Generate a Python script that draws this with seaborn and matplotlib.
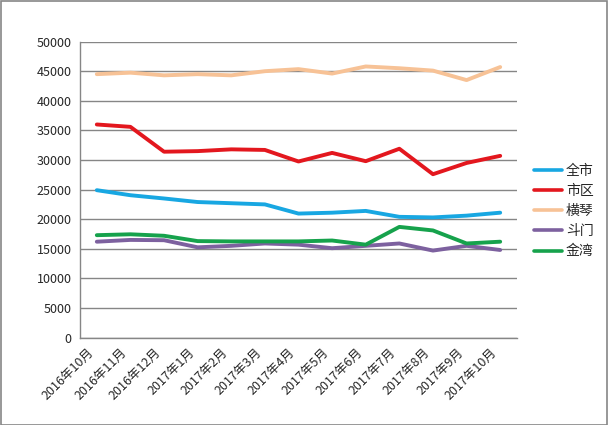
import matplotlib
matplotlib.use("Agg")
import matplotlib.pyplot as plt
import matplotlib.transforms as mtransforms
import seaborn as sns
import pandas as pd
from matplotlib.patches import Rectangle

months = ["2016年10月", "2016年11月", "2016年12月", "2017年1月", "2017年2月",
          "2017年3月", "2017年4月", "2017年5月", "2017年6月", "2017年7月",
          "2017年8月", "2017年9月", "2017年10月"]
quanshi = [24900, 24050, 23500, 22900, 22700, 22500, 20950, 21100, 21400, 20400, 20300, 20600, 21100]
shiqu   = [36000, 35600, 31400, 31500, 31800, 31700, 29750, 31200, 29800, 31900, 27600, 29500, 30700]
hengqin = [44500, 44750, 44300, 44500, 44300, 45000, 45350, 44600, 45800, 45500, 45100, 43500, 45700]
doumen  = [16200, 16500, 16450, 15250, 15500, 15900, 15700, 15100, 15500, 15900, 14700, 15500, 14800]
jinwan  = [17300, 17450, 17200, 16300, 16250, 16250, 16250, 16400, 15700, 18700, 18100, 15900, 16200]

series_names = ["全市", "市区", "横琴", "斗门", "金湾"]
series_values = [quanshi, shiqu, hengqin, doumen, jinwan]
colors = ["#18A7E2", "#E3171E", "#F7C296", "#7D619F", "#16A24C"]

rows = []
for name, vals in zip(series_names, series_values):
    for m, v in zip(months, vals):
        rows.append({"month": m, "value": v, "series": name})
df = pd.DataFrame(rows)

sns.set_style("white")
plt.rcParams["font.family"] = ["Noto Sans CJK SC", "DejaVu Sans"]

fig = plt.figure(figsize=(6.08, 4.25), dpi=100)
ax = fig.add_axes([80/608, 1-337.6/425, (517-80)/608, (337.6-41.6)/425])

sns.lineplot(data=df, x="month", y="value", hue="series", hue_order=series_names,
             palette=dict(zip(series_names, colors)), sort=False, linewidth=2.8,
             ax=ax, legend=True)

ax.set_xlim(-0.5, len(months) - 0.5)
ax.set_ylim(0, 50000)
ax.set_yticks(range(0, 50001, 5000))
ax.set_yticklabels([str(v) for v in range(0, 50001, 5000)], fontsize=9)
ax.set_xticks(range(len(months)))
ax.set_xticklabels([])
offset = mtransforms.ScaledTranslation(-10/100, -8/100, fig.dpi_scale_trans)
for i, m in enumerate(months):
    ax.text(i, 0, m, transform=ax.get_xaxis_transform() + offset,
            rotation=45, ha="right", va="top", rotation_mode="anchor", fontsize=9)
ax.set_xticks([i - 0.5 for i in range(len(months) + 1)], minor=True)
ax.tick_params(axis="x", which="major", length=0)
ax.tick_params(axis="x", which="minor", length=4, color="#868686", direction="out", width=1)
ax.tick_params(axis="y", length=4, color="#868686", direction="out", width=1, pad=2)
ax.set_xlabel("")
ax.set_ylabel("")
ax.grid(axis="y", color="#868686", linewidth=1)
ax.set_axisbelow(True)
for s in ["top", "right"]:
    ax.spines[s].set_visible(False)
for s in ["left", "bottom"]:
    ax.spines[s].set_color("#868686")
    ax.spines[s].set_linewidth(1)

leg = ax.legend(loc="center left", bbox_to_anchor=(534/608, 1-211/425),
                bbox_transform=fig.transFigure, frameon=False, fontsize=10,
                handlelength=2.0, handletextpad=0.3, labelspacing=0.45,
                borderpad=0, borderaxespad=0)
for line in leg.get_lines():
    line.set_linewidth(2.6)

fig.patches.append(Rectangle((0.5/608, 0.5/425), 1-1.5/608, 1-1.5/425,
                             transform=fig.transFigure, fill=False,
                             edgecolor="#868686", linewidth=1.2))

fig.savefig("out.png", dpi=100)
